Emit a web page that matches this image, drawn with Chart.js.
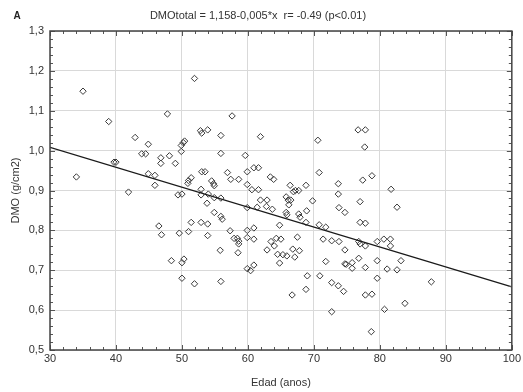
<!DOCTYPE html>
<html>
<head>
<meta charset="utf-8">
<script src="https://cdn.jsdelivr.net/npm/chart.js@4.4.1/dist/chart.umd.min.js"></script>
<style>
  html, body { margin: 0; padding: 0; background: #ffffff; }
  #wrap { width: 523px; height: 392px; }
</style>
</head>
<body>
<div id="wrap"><canvas id="c" width="523" height="392"></canvas></div>
<script>
// ---- Data ----
const ages = [
  35.0, 51.9, 38.9, 47.8, 52.8, 53.0, 53.9, 42.9, 44.9, 43.9,
  44.5, 46.8, 46.8, 48.1, 49.0, 49.9, 50.2, 50.4, 49.9, 39.7,
  40.0, 34.0, 44.9, 45.9, 45.9, 51.4, 51.0, 50.9, 53.0, 53.5,
  52.9, 57.6, 55.9, 61.9, 70.6, 55.9, 59.6, 60.9, 61.6, 56.9,
  59.9, 70.8, 54.5, 54.8, 54.9, 57.4, 58.6, 63.4, 63.9, 59.9,
  66.4, 68.8, 73.7, 76.7, 77.8, 77.7, 78.8, 77.4, 81.7, 41.9,
  49.4, 50.0, 52.9, 53.8, 46.5, 46.9, 49.6, 51.0, 51.4, 52.9,
  53.9, 53.9, 48.4, 50.3, 50.0, 50.0, 51.9, 54.0, 54.9, 55.9,
  54.9, 55.9, 56.1, 57.3, 57.9, 58.4, 58.6, 58.6, 58.5, 55.8,
  59.9, 60.9, 59.9, 60.9, 59.9, 60.6, 61.6, 61.9, 61.4, 62.9,
  62.8, 63.7, 64.8, 64.3, 65.0, 63.5, 64.0, 62.9, 64.5, 65.3,
  65.9, 64.8, 66.8, 67.8, 67.1, 67.5, 65.8, 65.9, 66.2, 65.8,
  66.1, 66.5, 67.2, 66.9, 67.7, 69.8, 68.9, 67.7, 67.9, 68.8,
  70.8, 71.8, 71.4, 72.7, 73.8, 74.7, 74.7, 71.8, 73.7, 73.8,
  74.7, 59.9, 60.4, 60.9, 55.9, 69.0, 70.9, 68.8, 66.7, 72.7,
  73.7, 74.5, 72.7, 77.0, 82.6, 77.0, 77.8, 76.8, 77.0, 77.8,
  79.6, 80.6, 81.6, 81.6, 74.9, 75.8, 75.8, 76.8, 77.8, 79.6,
  81.1, 82.6, 83.2, 79.6, 77.8, 78.8, 80.7, 83.8, 87.8, 78.7
];
const dmo = [
  1.149, 1.181, 1.073, 1.092, 1.050, 1.044, 1.052, 1.033, 1.016, 0.992,
  0.992, 0.982, 0.968, 0.987, 0.968, 1.013, 1.020, 1.024, 0.998, 0.971,
  0.971, 0.934, 0.942, 0.938, 0.913, 0.932, 0.925, 0.918, 0.947, 0.947,
  0.903, 1.087, 1.038, 1.035, 1.026, 0.993, 0.988, 0.957, 0.957, 0.945,
  0.947, 0.945, 0.924, 0.917, 0.912, 0.928, 0.928, 0.934, 0.928, 0.915,
  0.913, 0.913, 0.917, 1.052, 1.052, 1.009, 0.937, 0.926, 0.903, 0.896,
  0.889, 0.891, 0.889, 0.868, 0.811, 0.789, 0.793, 0.797, 0.820, 0.820,
  0.816, 0.787, 0.724, 0.728, 0.719, 0.680, 0.666, 0.891, 0.882, 0.881,
  0.845, 0.835, 0.828, 0.799, 0.780, 0.780, 0.773, 0.766, 0.744, 0.750,
  0.800, 0.806, 0.782, 0.778, 0.857, 0.902, 0.902, 0.876, 0.858, 0.876,
  0.860, 0.853, 0.813, 0.780, 0.778, 0.772, 0.761, 0.751, 0.740, 0.739,
  0.736, 0.718, 0.753, 0.749, 0.733, 0.783, 0.845, 0.839, 0.864, 0.884,
  0.876, 0.876, 0.900, 0.897, 0.900, 0.874, 0.849, 0.841, 0.833, 0.820,
  0.814, 0.808, 0.778, 0.774, 0.772, 0.751, 0.716, 0.722, 0.891, 0.857,
  0.845, 0.704, 0.699, 0.713, 0.672, 0.686, 0.686, 0.652, 0.638, 0.669,
  0.661, 0.647, 0.596, 0.872, 0.858, 0.820, 0.818, 0.772, 0.766, 0.761,
  0.772, 0.778, 0.778, 0.761, 0.715, 0.719, 0.705, 0.730, 0.707, 0.724,
  0.703, 0.701, 0.724, 0.680, 0.638, 0.640, 0.602, 0.617, 0.671, 0.546
];
// Regression line end points (as drawn)
const fitX = [30, 100];
const fitY = [1.008, 0.658];

const xTickValues = [30, 40, 50, 60, 70, 80, 90, 100];
const yTickLabels = ['0,5', '0,6', '0,7', '0,8', '0,9', '1,0', '1,1', '1,2', '1,3'];
const titleText = 'DMOtotal = 1,158-0,005*x  r= -0.49 (p<0.01)';
const panelLabel = 'A';
const xTitle = 'Edad (anos)';
const yTitle = 'DMO (g/cm2)';

// ---- Build chart ----
const points = ages.map((a, i) => ({ x: a, y: dmo[i] }));
const fitPts = fitX.map((a, i) => ({ x: a, y: fitY[i] }));

const FONT = '"Liberation Sans", Arial, sans-serif';
const TXT = '#333333';

const framePlugin = {
  id: 'frame',
  afterDraw(chart) {
    const { ctx, chartArea: ca, scales } = chart;
    const xs = scales.x, ys = scales.y;
    ctx.save();
    // minor / major inward ticks on all four sides
    ctx.strokeStyle = '#555555';
    ctx.lineWidth = 1;
    ctx.beginPath();
    for (let v = 30; v <= 100.001; v += 2) {
      const px = Math.round(xs.getPixelForValue(v)) + 0.5;
      const major = Math.abs(v % 10) < 0.001 || Math.abs(v % 10 - 10) < 0.001;
      const len = major ? 5 : 3;
      ctx.moveTo(px, ca.bottom); ctx.lineTo(px, ca.bottom - len);
      ctx.moveTo(px, ca.top); ctx.lineTo(px, ca.top + len);
    }
    for (let k = 0; k <= 40; k++) {
      const v = 0.5 + k * 0.02;
      const py = Math.round(ys.getPixelForValue(v)) + 0.5;
      const len = (k % 5 === 0) ? 5 : 3;
      ctx.moveTo(ca.left, py); ctx.lineTo(ca.left + len, py);
      ctx.moveTo(ca.right, py); ctx.lineTo(ca.right - len, py);
    }
    ctx.stroke();
    // frame
    ctx.strokeStyle = '#444444';
    ctx.lineWidth = 1.5;
    ctx.strokeRect(ca.left, ca.top, ca.right - ca.left, ca.bottom - ca.top);
    // panel label
    ctx.fillStyle = '#222222';
    ctx.font = 'bold 10px ' + FONT;
    ctx.textAlign = 'center';
    ctx.textBaseline = 'middle';
    ctx.fillText(panelLabel, 17, 16);
    ctx.restore();
  }
};

new Chart(document.getElementById('c'), {
  type: 'scatter',
  data: {
    datasets: [
      {
        label: 'DMO',
        data: points,
        pointStyle: 'rectRot',
        pointRadius: 3.2,
        pointHoverRadius: 3.2,
        pointBorderColor: '#3a3a3a',
        pointBackgroundColor: 'rgba(255,255,255,0)',
        pointBorderWidth: 1,
        showLine: false,
        order: 2
      },
      {
        label: 'fit',
        data: fitPts,
        showLine: true,
        borderColor: '#1a1a1a',
        borderWidth: 1.3,
        pointRadius: 0,
        fill: false,
        order: 1
      }
    ]
  },
  options: {
    responsive: false,
    animation: false,
    events: [],
    layout: { padding: { left: 0, right: 7, top: 0, bottom: 0 } },
    plugins: {
      legend: { display: false },
      tooltip: { enabled: false },
      title: {
        display: true,
        text: titleText,
        color: TXT,
        font: { family: FONT, size: 11, weight: 'normal', lineHeight: 1.2 },
        padding: { top: 9, bottom: 8.8 }
      }
    },
    scales: {
      x: {
        type: 'linear',
        min: 30, max: 100,
        afterBuildTicks(scale) { scale.ticks = xTickValues.map(v => ({ value: v })); },
        afterFit(scale) { scale.height = 42; },
        grid: { color: '#d9d9d9', lineWidth: 1, drawTicks: false },
        border: { display: false },
        ticks: {
          color: TXT, padding: 2, maxRotation: 0,
          font: { family: FONT, size: 11 },
          callback: (v) => String(v)
        },
        title: {
          display: true, text: xTitle, color: TXT,
          font: { family: FONT, size: 11 },
          padding: { top: 0, bottom: 2 }
        }
      },
      y: {
        type: 'linear',
        min: 0.5, max: 1.3,
        afterBuildTicks(scale) { scale.ticks = yTickLabels.map((t, i) => ({ value: 0.5 + i * 0.1 })); },
        afterFit(scale) { scale.width = 50; },
        grid: { color: '#d9d9d9', lineWidth: 1, drawTicks: false },
        border: { display: false },
        ticks: {
          color: TXT, padding: 6,
          font: { family: FONT, size: 11 },
          callback: (v, i) => yTickLabels[i]
        },
        title: {
          display: true, text: yTitle, color: TXT,
          font: { family: FONT, size: 11 },
          padding: { top: 9, bottom: 0 }
        }
      }
    }
  },
  plugins: [framePlugin]
});
</script>
</body>
</html>
